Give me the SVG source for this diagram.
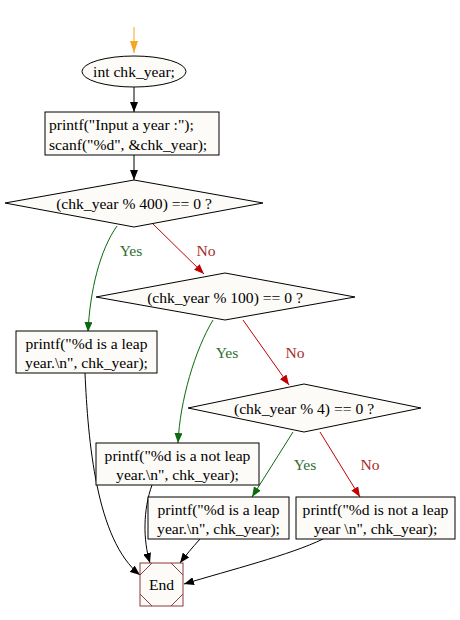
<svg xmlns="http://www.w3.org/2000/svg" width="460" height="620" viewBox="0 0 460 620">
<style>
.n{fill:#fdfbf7;stroke:#000;stroke-width:1}
.t{font-family:"Liberation Serif","Times New Roman",serif;font-size:15.6px;fill:#000}
.c{text-anchor:middle}
.e{fill:none;stroke:#000;stroke-width:1}
.g{stroke:#0b6a0b}
.r{stroke:#c00000}
.gl{fill:#2e6e2e}
.rl{fill:#a52a2a}
</style>
<defs>
<marker id="ab" markerWidth="11" markerHeight="8" refX="10" refY="4" orient="auto" markerUnits="userSpaceOnUse"><path d="M0,0 L10,4 L0,8 z" fill="#000"/></marker>
<marker id="ag" markerWidth="11" markerHeight="8" refX="10" refY="4" orient="auto" markerUnits="userSpaceOnUse"><path d="M0,0 L10,4 L0,8 z" fill="#0b6a0b"/></marker>
<marker id="ar" markerWidth="11" markerHeight="8" refX="10" refY="4" orient="auto" markerUnits="userSpaceOnUse"><path d="M0,0 L10,4 L0,8 z" fill="#c00000"/></marker>
<marker id="ao" markerWidth="13" markerHeight="8" refX="12" refY="4" orient="auto" markerUnits="userSpaceOnUse"><path d="M0,0 L12,4 L0,8 z" fill="#f5a623"/></marker>
</defs>
<rect width="460" height="620" fill="#fff"/>
<g id="edges">
<path class="e" d="M134,27 L134,53" style="stroke:#f5a623" marker-end="url(#ao)"/>
<path class="e" d="M134,87 L134,112" marker-end="url(#ab)"/>
<path class="e" d="M134,155 L134,180" marker-end="url(#ab)"/>
<path class="e g" d="M117,226 C100,250 90,290 88,332" marker-end="url(#ag)"/>
<path class="e r" d="M153,224 L204,274" marker-end="url(#ar)"/>
<path class="e g" d="M213,320 C195,350 180,400 178,443" marker-end="url(#ag)"/>
<path class="e r" d="M243,320 L289,385" marker-end="url(#ar)"/>
<path class="e g" d="M293,432 L252,497" marker-end="url(#ag)"/>
<path class="e r" d="M320,432 L360,497" marker-end="url(#ar)"/>
<path class="e" d="M85,373 C88,440 96,540 140,575" marker-end="url(#ab)"/>
<path class="e" d="M152,485 C143,510 143,540 150,563" marker-end="url(#ab)"/>
<path class="e" d="M200,539 C192,548 186,555 180,563" marker-end="url(#ab)"/>
<path class="e" d="M323,539 C290,555 230,570 184,584" marker-end="url(#ab)"/>
<text class="t c gl" x="131" y="256">Yes</text>
<text class="t c rl" x="206" y="256">No</text>
<text class="t c gl" x="227" y="358">Yes</text>
<text class="t c rl" x="295" y="358">No</text>
<text class="t c gl" x="305" y="470">Yes</text>
<text class="t c rl" x="370" y="470">No</text>
</g>
<g id="decl">
<ellipse class="n" cx="134" cy="71.5" rx="52" ry="15.5"/>
<text class="t c" x="134" y="77">int chk_year;</text>
</g>
<g id="input">
<rect class="n" x="45" y="112" width="174" height="43"/>
<text class="t" x="49" y="130">printf("Input a year :");</text>
<text class="t" x="49" y="150">scanf("%d", &amp;chk_year);</text>
</g>
<g id="d400">
<polygon class="n" points="134,180 263,203 134,227 5,203"/>
<text class="t c" x="134" y="208.5">(chk_year % 400) == 0 ?</text>
</g>
<g id="d100">
<polygon class="n" points="225,273 355,297 225,320 96,297"/>
<text class="t c" x="225" y="302.5">(chk_year % 100) == 0 ?</text>
</g>
<g id="leap1">
<rect class="n" x="16" y="331" width="141" height="42"/>
<text class="t c" x="86.5" y="349">printf("%d is a leap</text>
<text class="t c" x="86.5" y="368">year.\n", chk_year);</text>
</g>
<g id="d4">
<polygon class="n" points="304,384 421,408 304,432 188,408"/>
<text class="t c" x="304" y="413.5">(chk_year % 4) == 0 ?</text>
</g>
<g id="notleap1">
<rect class="n" x="96" y="443" width="163" height="42"/>
<text class="t c" x="177.5" y="461">printf("%d is a not leap</text>
<text class="t c" x="177.5" y="480">year.\n", chk_year);</text>
</g>
<g id="leap2">
<rect class="n" x="148" y="497" width="141" height="42"/>
<text class="t c" x="218.5" y="515">printf("%d is a leap</text>
<text class="t c" x="218.5" y="534">year.\n", chk_year);</text>
</g>
<g id="notleap2">
<rect class="n" x="296" y="497" width="159" height="42"/>
<text class="t c" x="375.5" y="515">printf("%d is not a leap</text>
<text class="t c" x="375.5" y="534">year \n", chk_year);</text>
</g>
<g id="end">
<rect class="n" x="140" y="563" width="43" height="43" style="stroke:#8b3a3a"/>
<path d="M152,563 L140,575 M171,563 L183,575 M140,594 L152,606 M183,594 L171,606" fill="none" stroke="#8b3a3a" stroke-width="1"/>
<text class="t c" x="161.5" y="589.5">End</text>
</g>
</svg>
